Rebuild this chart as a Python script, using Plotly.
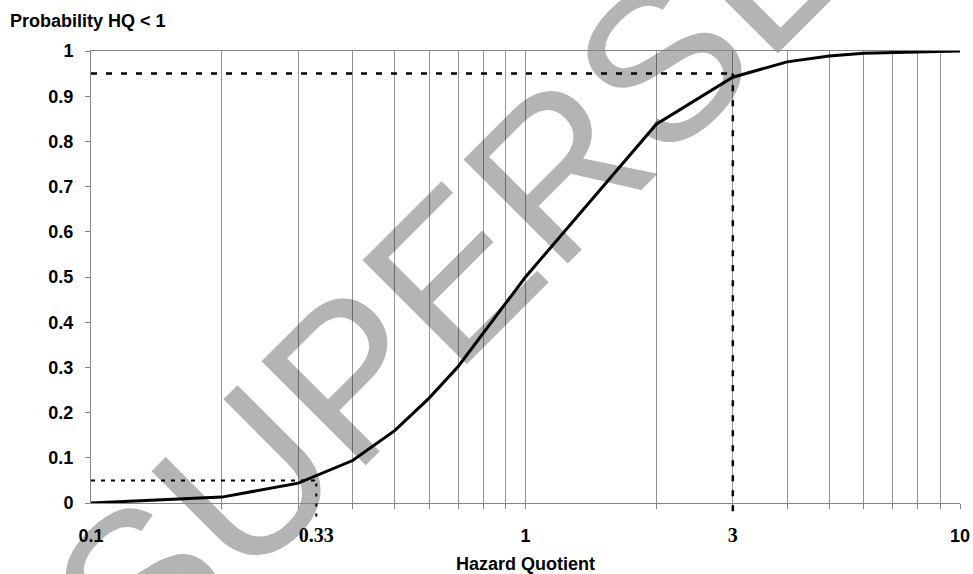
import plotly.graph_objects as go

# Cumulative probability of the hazard quotient (HQ) being below each value
hq = [0.1, 0.2, 0.3, 0.4, 0.5, 0.6, 0.7, 0.8, 0.9, 1,
      2, 3, 4, 5, 6, 7, 8, 9, 10]
prob = [0.0, 0.013, 0.044, 0.094, 0.160, 0.232, 0.302, 0.376, 0.440, 0.500,
        0.838, 0.942, 0.976, 0.989, 0.995, 0.997, 0.998, 0.999, 1.0]

# Reference levels (5th and 95th percentiles)
p_low, hq_low = 0.05, 0.33
p_high, hq_high = 0.95, 3

# Axes
y_ticks = [0, 0.1, 0.2, 0.3, 0.4, 0.5, 0.6, 0.7, 0.8, 0.9, 1]
y_tick_text = ["0", "0.1", "0.2", "0.3", "0.4", "0.5", "0.6", "0.7", "0.8", "0.9", "1"]
x_label_vals = [0.1, 0.33, 1, 3, 10]
x_label_text = ["0.1", "0.33", "1", "3", "10"]
x_serif_labels = {"0.33", "3"}
x_grid_vals = [0.2, 0.3, 0.4, 0.5, 0.6, 0.7, 0.8, 0.9, 1,
               2, 3, 4, 5, 6, 7, 8, 9, 10]
x_range = [0.1, 10]
y_range = [0, 1]

SANS = "Liberation Sans, Arial, sans-serif"
SERIF = "Liberation Serif, Times New Roman, serif"
GRID = "rgba(0,0,0,0.42)"
AXIS = "#858585"


def fmt_x(t):
    if t in x_serif_labels:
        return f'<span style="font-family:{SERIF};font-size:20px">{t}</span>'
    return t


def y_frac(v):
    return (v - y_range[0]) / (y_range[1] - y_range[0])


fig = go.Figure()

fig.add_trace(go.Scatter(
    x=hq, y=prob, mode="lines",
    line=dict(color="black", width=3),
    hoverinfo="skip", showlegend=False,
))

shapes = [
    # watermark, drawn beneath gridlines and data
    dict(type="rect", xref="paper", yref="paper",
         x0=0.578, x1=0.588, y0=0.887, y1=0.897,
         line=dict(width=0), fillcolor="rgba(0,0,0,0)", layer="below",
         label=dict(text="SUPERSEDED", textangle=-45,
                    textposition="middle center",
                    font=dict(family=SANS, size=214, color="#b4b4b4"))),
    # 95th percentile guide
    dict(type="line", xref="x", yref="y", x0=x_range[0], x1=hq_high,
         y0=p_high, y1=p_high,
         line=dict(color="black", width=2.5, dash="6px,9px")),
    dict(type="line", xref="x", yref="y domain", x0=hq_high, x1=hq_high,
         y0=-0.018, y1=y_frac(p_high),
         line=dict(color="black", width=2.5, dash="6px,9px")),
    # 5th percentile guide
    dict(type="line", xref="x", yref="y", x0=x_range[0], x1=hq_low,
         y0=p_low, y1=p_low,
         line=dict(color="black", width=2, dash="4px,6px")),
    dict(type="line", xref="x", yref="y domain", x0=hq_low, x1=hq_low,
         y0=-0.03, y1=y_frac(p_low),
         line=dict(color="black", width=2, dash="3px,7px")),
]

fig.update_layout(
    width=973, height=574, autosize=False,
    margin=dict(l=91, r=13, t=51, b=71, pad=0),
    paper_bgcolor="white", plot_bgcolor="rgba(0,0,0,0)",
    shapes=shapes,
    title=dict(text="Probability HQ < 1", x=10 / 973, xanchor="left",
               xref="container", y=1 - 21 / 574, yanchor="middle",
               yref="container",
               font=dict(family=SANS, size=18, color="black", weight="bold")),
    xaxis=dict(
        type="log", range=[-1, 1], automargin=False,
        tickmode="array", tickvals=x_label_vals,
        ticktext=[fmt_x(t) for t in x_label_text],
        ticks="", ticklabelstandoff=16,
        tickfont=dict(family=SANS, size=18, color="black", weight="bold"),
        showgrid=False, zeroline=False,
        showline=True, linecolor=AXIS, linewidth=1, mirror=True,
        minor=dict(tickmode="array", tickvals=x_grid_vals,
                   ticks="outside", ticklen=5, tickcolor=AXIS,
                   showgrid=True, gridcolor=GRID, gridwidth=1),
        title=dict(text="Hazard Quotient", standoff=14,
                   font=dict(family=SANS, size=18, color="black", weight="bold")),
    ),
    yaxis=dict(
        range=y_range, automargin=False,
        tickmode="array", tickvals=y_ticks, ticktext=y_tick_text,
        ticks="outside", ticklen=5, tickcolor=AXIS,
        ticklabelstandoff=8,
        tickfont=dict(family=SANS, size=18, color="black", weight="bold"),
        showgrid=False, zeroline=False,
        showline=True, linecolor=AXIS, linewidth=1,
    ),
)

fig.write_html("out.html")
